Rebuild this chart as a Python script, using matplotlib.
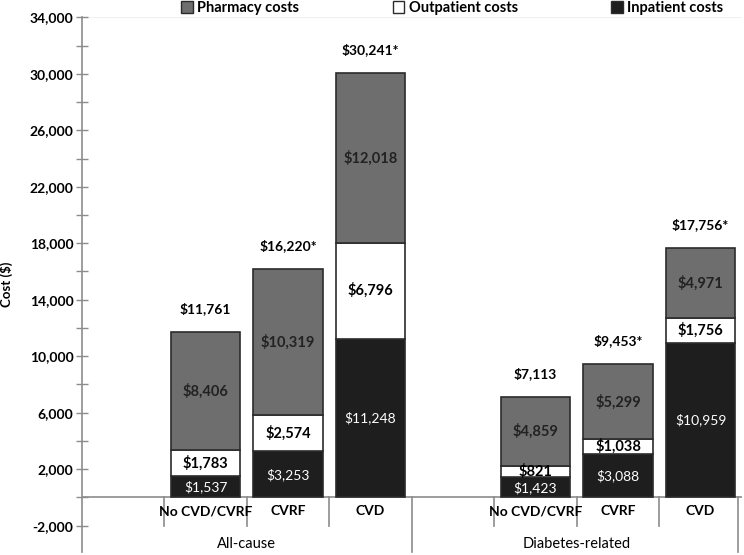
import matplotlib.pyplot as plt
from matplotlib.patches import Patch

# Data
groups = ["All-cause", "Diabetes-related"]
categories = ["No CVD/CVRF", "CVRF", "CVD"]
inpatient = [1537, 3253, 11248, 1423, 3088, 10959]
outpatient = [1783, 2574, 6796, 821, 1038, 1756]
pharmacy = [8406, 10319, 12018, 4859, 5299, 4971]
totals = ["$11,761", "$16,220*", "$30,241*", "$7,113", "$9,453*", "$17,756*"]
yticks_major = [-2000, 2000, 6000, 10000, 14000, 18000, 22000, 26000, 30000, 34000]

PHARM = "#6e6e6e"
INP = "#1e1e1e"
EDGE = "#2b2b2b"
AXC = "#8c8c8c"

plt.rcParams["font.family"] = ["Lato", "DejaVu Sans"]

fig = plt.figure(figsize=(7.44, 5.55), dpi=100)
ax = fig.add_axes([0.110, 0.0054, 0.887, 0.9634])

# bar slots: 0 and 4 are empty slots before each group
xs = [1, 2, 3, 5, 6, 7]
w = 0.84
ax.bar(xs, inpatient, w, color=INP, edgecolor=EDGE, linewidth=1.2, zorder=3)
bot2 = [a for a in inpatient]
ax.bar(xs, outpatient, w, bottom=bot2, color="white", edgecolor=EDGE, linewidth=1.2, zorder=3)
bot3 = [a + b for a, b in zip(inpatient, outpatient)]
ax.bar(xs, pharmacy, w, bottom=bot3, color=PHARM, edgecolor=EDGE, linewidth=1.2, zorder=3)

for i, x in enumerate(xs):
    ax.text(x, inpatient[i] / 2, f"${inpatient[i]:,}", ha="center", va="center",
            color="white", fontsize=10, zorder=4)
    ax.text(x, bot2[i] + outpatient[i] / 2, f"${outpatient[i]:,}", ha="center", va="center",
            color="black", fontsize=10.5, fontweight="bold", zorder=4)
    ax.text(x, bot3[i] + pharmacy[i] / 2, f"${pharmacy[i]:,}", ha="center", va="center",
            color="#222222", fontsize=10.5, fontweight="bold", zorder=4)
    top = bot3[i] + pharmacy[i]
    ax.text(x, top + 1650, totals[i], ha="center", va="center",
            color="black", fontsize=10, fontweight="bold", zorder=4)

ax.set_xlim(-0.5, 7.5)
ax.set_ylim(-3870, 34000)
ax.set_yticks(yticks_major)
ax.set_yticklabels([f"{v:,}" for v in yticks_major], fontsize=10, fontweight="bold")
ax.set_yticks(list(range(0, 34000, 4000)), minor=True)
ax.tick_params(axis="y", which="both", direction="inout", length=8, color=AXC, width=1)
ax.tick_params(axis="y", which="major", pad=2)
ax.set_xticks([])
for s in ["top", "right", "bottom"]:
    ax.spines[s].set_visible(False)
ax.spines["left"].set_color(AXC)
ax.spines["left"].set_linewidth(1.2)
ax.set_ylabel("Cost ($)", fontsize=9.5, fontweight="bold", labelpad=12)

# category axis table below zero
ax.axhline(0, color=AXC, linewidth=1.2, zorder=2)
ax.axhline(34000, color="#f0f0f0", linewidth=0.8, zorder=1)
for b in [0.5, 1.5, 2.5, 4.5, 5.5, 6.5]:
    ax.plot([b, b], [0, -2000], color=AXC, linewidth=1.2, clip_on=False)
for b in [3.5, 7.45]:
    ax.plot([b, b], [0, -3870], color=AXC, linewidth=1.2, clip_on=False)
for i, x in enumerate(xs):
    ax.text(x, -1000, categories[i % 3], ha="center", va="center", fontsize=10, fontweight="bold")
ax.text(1.5, -3270, groups[0], ha="center", va="center", fontsize=10.5)
ax.text(5.5, -3270, groups[1], ha="center", va="center", fontsize=10.5)

handles = [Patch(facecolor=PHARM, edgecolor=EDGE, label="Pharmacy costs"),
           Patch(facecolor="white", edgecolor=EDGE, label="Outpatient costs"),
           Patch(facecolor=INP, edgecolor=EDGE, label="Inpatient costs")]
fig.legend(handles=handles, loc="center", bbox_to_anchor=(0.608, 1 - 8 / 555), ncol=3,
           frameon=False, handlelength=0.8, handleheight=0.8, handletextpad=0.3,
           columnspacing=6.4, prop={"size": 10.5, "weight": "bold"})

fig.savefig("out.png", dpi=100)
